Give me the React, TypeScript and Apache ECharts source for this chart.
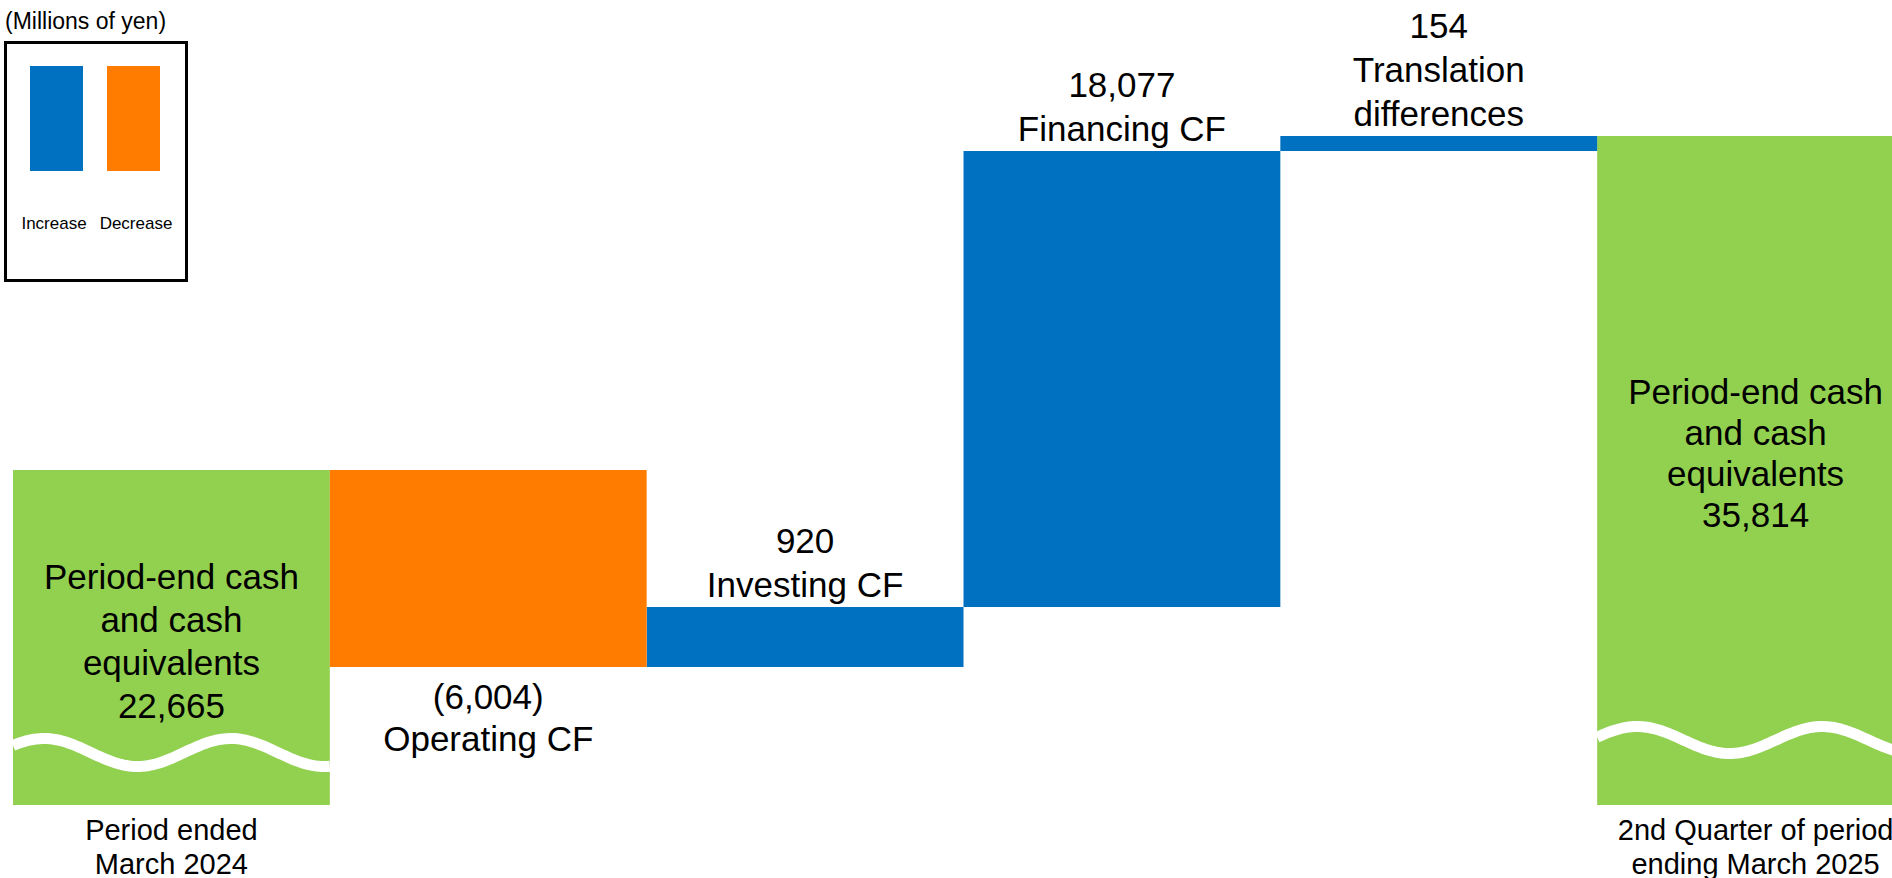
import React, { useEffect, useRef } from "react";
import * as echarts from "echarts";

// Steps of the cash-flow bridge (Millions of yen)
const categories = [
  "Period ended March 2024",
  "Operating CF",
  "Investing CF",
  "Financing CF",
  "Translation differences",
  "2nd Quarter of period ending March 2025",
];
const amounts = [22665, -6004, 920, 18077, 154, 35814];
const kinds = ["total", "step", "step", "step", "step", "total"];
// The reference is schematic (not drawn to scale): running level after each step, in its display units
const levelAfter = [335, 138, 198, 654, 669, 669];
const labelNames = [
  "Period-end cash\nand cash\nequivalents",
  "Operating CF",
  "Investing CF",
  "Financing CF",
  "Translation\ndifferences",
  "Period-end cash\nand cash\nequivalents",
];
const axisLabels = ["Period ended\nMarch 2024", "", "", "", "", "2nd Quarter of period\nending March 2025"];
const legendItems = ["Increase", "Decrease"];
const unitLabel = "(Millions of yen)";

const GREEN = "#92D050";
const BLUE = "#0070C0";
const ORANGE = "#FF7C00";
const FONT = "'Liberation Sans', Arial, sans-serif";

const fmt = (n: number) =>
  n < 0 ? `(${Math.abs(n).toLocaleString("en-US")})` : n.toLocaleString("en-US");

export default function App() {
  const ref = useRef<HTMLDivElement>(null);
  useEffect(() => {
    if (!ref.current) return;
    const chart = echarts.init(ref.current, undefined, { renderer: "svg" });

    const base: any[] = [];
    const totals: any[] = [];
    const inc: any[] = [];
    const dec: any[] = [];
    categories.forEach((_, i) => {
      if (kinds[i] === "total") {
        base.push(0);
        totals.push({
          value: levelAfter[i],
          label: i === categories.length - 1 ? { offset: [0, -18], lineHeight: 41 } : undefined,
        });
        inc.push("-");
        dec.push("-");
      } else {
        const prev = levelAfter[i - 1];
        const cur = levelAfter[i];
        base.push(Math.min(prev, cur));
        totals.push("-");
        if (amounts[i] >= 0) {
          inc.push(Math.abs(cur - prev));
          dec.push("-");
        } else {
          dec.push(Math.abs(cur - prev));
          inc.push("-");
        }
      }
    });

    const labelText = (p: any) => `${fmt(amounts[p.dataIndex])}\n${labelNames[p.dataIndex]}`;
    const totalText = (p: any) => `${labelNames[p.dataIndex]}\n${fmt(amounts[p.dataIndex])}`;

    const waveStyles = [
      { rise: 52.5, phase: 31, amp: 14, period: 187 },
      { rise: 65, phase: 40, amp: 13.5, period: 185 },
    ];
    const waveData = categories
      .map((_, i) => i)
      .filter((i) => kinds[i] === "total")
      .map((i) => [i, 0]);

    const option: any = {
      animation: false,
      grid: { left: 13, right: 6, top: 105, bottom: 73, outerBoundsMode: "none", containLabel: false },
      xAxis: {
        type: "category",
        data: categories,
        axisLine: { show: false },
        axisTick: { show: false },
        axisLabel: {
          interval: 0,
          margin: 8,
          color: "#000",
          fontFamily: FONT,
          fontSize: 29,
          lineHeight: 34,
          formatter: (_: string, idx: number) => axisLabels[idx],
        },
      },
      yAxis: { type: "value", min: 0, max: 700, show: false, splitLine: { show: false } },
      series: [
        {
          type: "bar",
          stack: "wf",
          data: base,
          barCategoryGap: "0%",
          itemStyle: { color: "transparent" },
          silent: true,
        },
        {
          type: "bar",
          stack: "wf",
          data: totals,
          itemStyle: { color: GREEN },
          label: {
            show: true,
            position: "inside",
            offset: [0, 3],
            formatter: totalText,
            color: "#000",
            fontFamily: FONT,
            fontSize: 35,
            lineHeight: 43,
          },
        },
        {
          type: "bar",
          stack: "wf",
          data: inc,
          itemStyle: { color: BLUE },
          label: {
            show: true,
            position: "top",
            distance: 1,
            formatter: labelText,
            color: "#000",
            fontFamily: FONT,
            fontSize: 35,
            lineHeight: 44,
          },
        },
        {
          type: "bar",
          stack: "wf",
          data: dec,
          itemStyle: { color: ORANGE },
          label: {
            show: true,
            position: "bottom",
            distance: 8,
            formatter: labelText,
            color: "#000",
            fontFamily: FONT,
            fontSize: 35,
            lineHeight: 42,
          },
        },
        {
          type: "custom",
          z: 5,
          silent: true,
          data: waveData,
          renderItem: (params: any, api: any) => {
            const ws = waveStyles[params.dataIndex] || waveStyles[0];
            const c = api.coord([api.value(0), 0]);
            const w = api.size([1, 0])[0];
            const x0 = c[0] - w / 2;
            const yc = c[1] - ws.rise;
            const pts: number[][] = [];
            for (let k = 0; k <= 120; k++) {
              const x = x0 + (w * k) / 120;
              const y = yc - ws.amp * Math.cos((2 * Math.PI * (x - x0 - ws.phase)) / ws.period);
              pts.push([x, y]);
            }
            return {
              type: "polyline",
              shape: { points: pts },
              style: { stroke: "#fff", lineWidth: 11, fill: "none" },
            };
          },
        },
      ],
      graphic: [
        {
          type: "text",
          left: 5,
          top: 9,
          style: { text: unitLabel, fontFamily: FONT, fontSize: 23, fill: "#000" },
        },
        {
          type: "rect",
          shape: { x: 5.5, y: 42.5, width: 181, height: 238 },
          style: { fill: "#fff", stroke: "#000", lineWidth: 3 },
        },
        { type: "rect", shape: { x: 30, y: 66, width: 53, height: 105 }, style: { fill: BLUE } },
        { type: "rect", shape: { x: 107, y: 66, width: 53, height: 105 }, style: { fill: ORANGE } },
        {
          type: "text",
          x: 54,
          y: 223,
          style: {
            text: legendItems[0],
            fontFamily: FONT,
            fontSize: 17,
            fill: "#000",
            align: "center",
            verticalAlign: "middle",
          },
        },
        {
          type: "text",
          x: 136,
          y: 223,
          style: {
            text: legendItems[1],
            fontFamily: FONT,
            fontSize: 17,
            fill: "#000",
            align: "center",
            verticalAlign: "middle",
          },
        },
      ],
    };
    chart.setOption(option);
    return () => chart.dispose();
  }, []);

  return (
    <div
      style={{
        position: "absolute",
        left: 0,
        top: 0,
        width: 1892,
        height: 878,
        overflow: "hidden",
        background: "#fff",
      }}
    >
      <div ref={ref} style={{ width: 1920, height: 878 }} />
    </div>
  );
}
